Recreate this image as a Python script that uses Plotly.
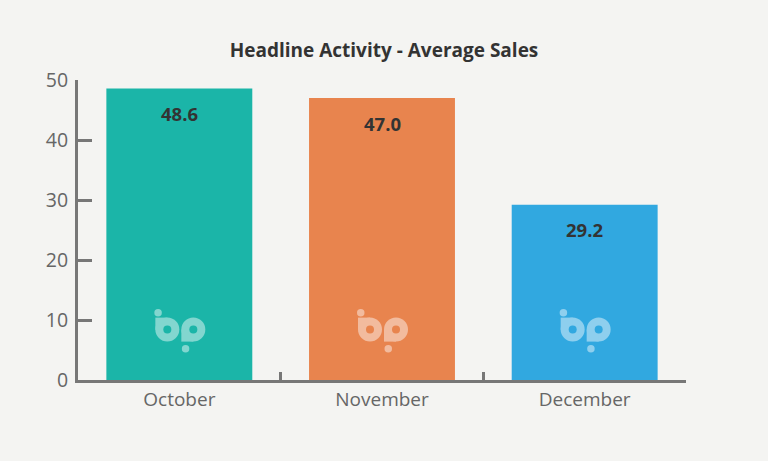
import plotly.graph_objects as go

months = ["October", "November", "December"]
avg_sales = [48.6, 47.0, 29.2]
bar_colors = ["#1bb5a8", "#e8844e", "#31a8e0"]
y_ticks = [0, 10, 20, 30, 40, 50]

BG = "#f4f4f2"
AX = "#777777"
FONT = "Open Sans"


def blend(hex_color, a=0.45):
    h = hex_color.lstrip("#")
    r, g, b = (int(h[i:i + 2], 16) for i in (0, 2, 4))
    r, g, b = (round(c * (1 - a) + 255 * a) for c in (r, g, b))
    return f"#{r:02x}{g:02x}{b:02x}"


fig = go.Figure()
fig.add_trace(go.Bar(
    x=months, y=avg_sales, marker=dict(color=bar_colors, line=dict(width=0)),
    width=0.72, hoverinfo="x+y",
))

for i, (m, v) in enumerate(zip(months, avg_sales)):
    fig.add_annotation(x=m, y=v, yshift=-25, text=f"<b>{v:.1f}</b>", showarrow=False,
                       font=dict(family=FONT, size=18.5, color="#333333"))

# watermark logo in each bar (decoration)
logo_y = 8.4
for i, c in enumerate(bar_colors):
    lc = blend(c)
    common = dict(xref="x", yref="y", xsizemode="pixel", ysizemode="pixel",
                  xanchor=i, yanchor=logo_y, line=dict(width=0), layer="above")
    # left "b" body
    fig.add_shape(type="circle", x0=-24, x1=0, y0=-12, y1=12, fillcolor=lc, **common)
    fig.add_shape(type="rect", x0=-24, x1=-12, y0=0, y1=12, fillcolor=lc, **common)
    # right "p" body
    fig.add_shape(type="circle", x0=2, x1=26, y0=-12, y1=12, fillcolor=lc, **common)
    fig.add_shape(type="rect", x0=2, x1=14, y0=-12, y1=0, fillcolor=lc, **common)
    # holes
    fig.add_shape(type="circle", x0=-16, x1=-8, y0=-4, y1=4, fillcolor=c, **common)
    fig.add_shape(type="circle", x0=10, x1=18, y0=-4, y1=4, fillcolor=c, **common)
    # dots
    fig.add_shape(type="circle", x0=-25, x1=-17.5, y0=13, y1=20.5, fillcolor=lc, **common)
    fig.add_shape(type="circle", x0=2.5, x1=10, y0=-23, y1=-15.5, fillcolor=lc, **common)

fig.update_layout(
    width=768, height=461,
    paper_bgcolor=BG, plot_bgcolor=BG,
    margin=dict(l=78, r=82, t=80, b=81),
    showlegend=False,
    title=dict(text="<b>Headline Activity - Average Sales</b>", x=0.5, xanchor="center",
               y=0.89, yanchor="middle",
               font=dict(family=FONT, size=19, color="#333333")),
    font=dict(family=FONT, color="#666666", size=19),
    bargap=0.28,
)
fig.update_xaxes(
    type="category", range=[-0.5, 2.5], showline=True, linecolor=AX, linewidth=3,
    ticks="inside", tickson="boundaries", ticklen=8, tickwidth=3, tickcolor=AX,
    showgrid=False, tickfont=dict(family=FONT, size=19, color="#666666"),
)
fig.update_yaxes(
    range=[0, 50], tickvals=y_ticks, showline=True, linecolor=AX, linewidth=3,
    ticks="inside", ticklen=14, tickwidth=3, tickcolor=AX, showgrid=False,
    zeroline=False, ticklabelstandoff=3,
    tickfont=dict(family=FONT, size=19.5, color="#666666"),
)

fig.write_html(
    "out.html",
    config={"displayModeBar": False},
    post_script="document.body.style.margin='0';document.body.style.background='%s';" % BG,
)
